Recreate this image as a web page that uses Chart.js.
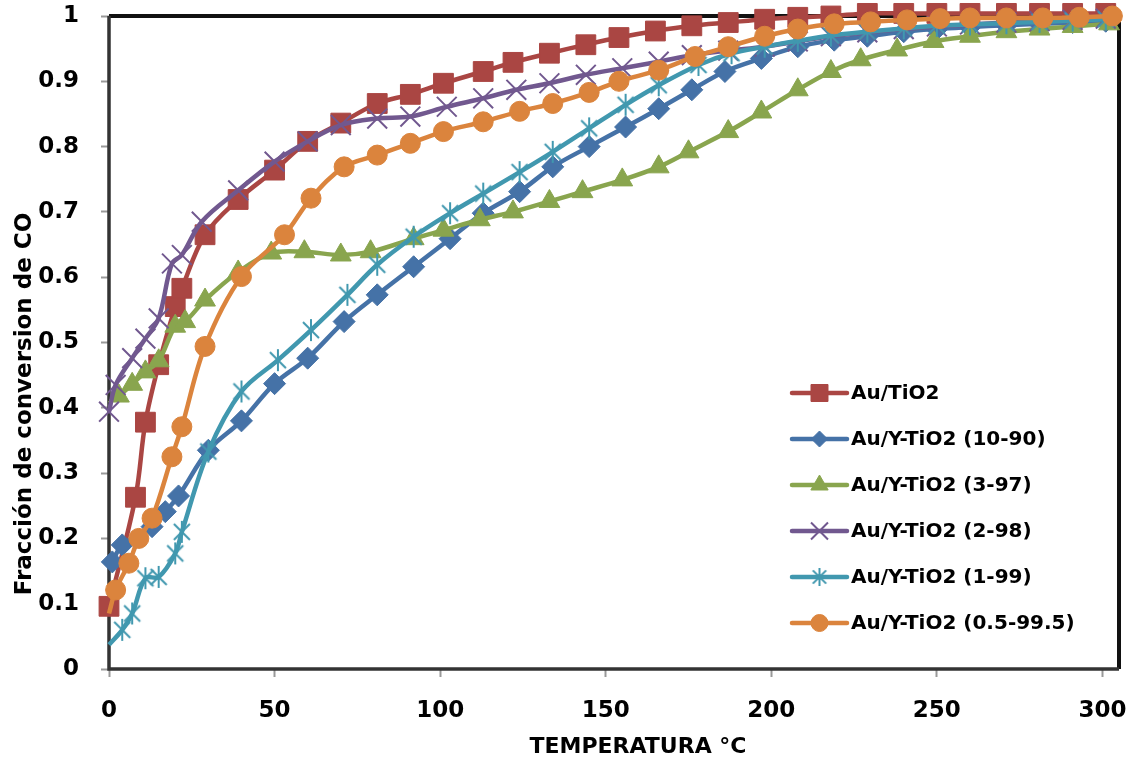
<!DOCTYPE html>
<html>
<head>
<meta charset="utf-8">
<title>Fracción de conversion de CO</title>
<script src="https://cdn.jsdelivr.net/npm/chart.js@4.4.1/dist/chart.umd.min.js"></script>
<style>
  html, body { margin: 0; padding: 0; background: #fff; }
  #chart { display: block; }
</style>
</head>
<body>
<canvas id="chart" width="1135" height="763"></canvas>
<script>
// CO conversion vs temperature for the Au catalysts

const seriesNames = [
  'Au/TiO2',
  'Au/Y-TiO2 (10-90)',
  'Au/Y-TiO2 (3-97)',
  'Au/Y-TiO2 (2-98)',
  'Au/Y-TiO2 (1-99)',
  'Au/Y-TiO2 (0.5-99.5)'
];

// temperature (°C) / conversion for each sample
const tAuTiO2 = [0, 8, 11, 15, 20, 22, 29, 39, 50, 60, 70, 81, 91, 101, 113, 122, 133, 144, 154, 165, 176, 187, 198, 208, 218, 229, 240, 250, 260, 271, 281, 291, 301];
const xAuTiO2 = [0.096, 0.263, 0.378, 0.466, 0.555, 0.583, 0.665, 0.719, 0.764, 0.808, 0.836, 0.866, 0.880, 0.897, 0.915, 0.929, 0.943, 0.956, 0.967, 0.977, 0.985, 0.990, 0.995, 0.998, 1.0, 1.004, 1.004, 1.004, 1.004, 1.004, 1.004, 1.004, 1.004];

const tY10 = [1, 4, 13, 17, 21, 30, 40, 50, 60, 71, 81, 92, 103, 113, 124, 134, 145, 156, 166, 176, 186, 197, 208, 219, 229, 240, 250, 260, 271, 281, 291, 301];
const xY10 = [0.164, 0.19, 0.218, 0.241, 0.265, 0.335, 0.380, 0.437, 0.476, 0.532, 0.573, 0.616, 0.659, 0.698, 0.731, 0.769, 0.80, 0.830, 0.858, 0.887, 0.915, 0.935, 0.953, 0.963, 0.969, 0.976, 0.98, 0.983, 0.986, 0.988, 0.99, 0.992];

const tY3 = [3, 7, 11, 15, 20, 23, 29, 39, 49, 59, 70, 79, 92, 101, 112, 122, 133, 143, 155, 166, 175, 187, 197, 208, 218, 227, 238, 249, 260, 271, 281, 291, 302];
const xY3 = [0.418, 0.436, 0.455, 0.472, 0.525, 0.532, 0.565, 0.608, 0.637, 0.639, 0.634, 0.639, 0.659, 0.672, 0.688, 0.700, 0.716, 0.731, 0.749, 0.769, 0.792, 0.823, 0.853, 0.887, 0.915, 0.933, 0.948, 0.961, 0.969, 0.976, 0.98, 0.984, 0.988];

const tY2 = [0, 2, 7, 11, 15, 19, 22, 28, 39, 50, 60, 70, 81, 91, 102, 113, 123, 133, 144, 155, 166, 176, 187, 198, 208, 218, 229, 240, 250, 260, 271, 281, 291, 301];
const xY2 = [0.394, 0.435, 0.476, 0.506, 0.537, 0.621, 0.634, 0.685, 0.733, 0.777, 0.808, 0.833, 0.843, 0.846, 0.861, 0.874, 0.887, 0.897, 0.910, 0.920, 0.930, 0.940, 0.947, 0.953, 0.961, 0.969, 0.975, 0.98, 0.984, 0.987, 0.99, 0.992, 0.994, 0.996];

const tY1 = [0, 4, 7, 11, 15, 20, 22, 30, 40, 51, 61, 72, 81, 92, 103, 113, 124, 134, 145, 156, 166, 178, 188, 198, 208, 218, 229, 240, 250, 260, 271, 281, 291, 301];
const xY1 = [0.037, 0.060, 0.085, 0.139, 0.141, 0.177, 0.210, 0.333, 0.425, 0.473, 0.519, 0.573, 0.619, 0.662, 0.698, 0.728, 0.761, 0.792, 0.828, 0.864, 0.894, 0.925, 0.943, 0.953, 0.962, 0.970, 0.976, 0.981, 0.985, 0.987, 0.989, 0.991, 0.993, 0.995];

const tY05 = [0, 2, 6, 9, 13, 19, 22, 29, 40, 53, 61, 71, 81, 91, 101, 113, 124, 134, 145, 154, 166, 177, 187, 198, 208, 219, 230, 241, 251, 260, 271, 282, 293, 303];
const xY05 = [0.085, 0.121, 0.162, 0.200, 0.231, 0.325, 0.371, 0.494, 0.601, 0.665, 0.721, 0.769, 0.787, 0.805, 0.823, 0.838, 0.854, 0.866, 0.883, 0.900, 0.917, 0.938, 0.953, 0.969, 0.980, 0.988, 0.991, 0.994, 0.996, 0.997, 0.997, 0.997, 0.998, 1.0];

const xTicksMax = 305;

const SERIES_COLORS = ['#AA4643', '#4572A7', '#89A54E', '#71588F', '#4198AF', '#DB843D'];
const FONT = "'DejaVu Sans', sans-serif";

// Excel style "star" marker: an X with a vertical bar
function makeAsterisk(color, size) {
  const c = document.createElement('canvas');
  c.width = size;
  c.height = size;
  const g = c.getContext('2d');
  const m = size / 2, d = size / 3;
  g.strokeStyle = color;
  g.lineWidth = 2;
  g.beginPath();
  g.moveTo(m - d, m - d); g.lineTo(m + d, m + d);
  g.moveTo(m + d, m - d); g.lineTo(m - d, m + d);
  g.moveTo(m, 1); g.lineTo(m, size - 1);
  g.stroke();
  return c;
}

const markers = [
  { style: 'rect', radius: 14, border: 1 },
  { style: 'rectRot', radius: 11, border: 1 },
  { style: 'triangle', radius: 12, border: 1 },
  { style: 'crossRot', radius: 14, border: 2 },
  { style: makeAsterisk(SERIES_COLORS[4], 24), radius: 11, border: 2 },
  { style: 'circle', radius: 10, border: 1 }
];
// smaller versions for the legend
const legendMarkers = [
  { style: 'rect', radius: 12, border: 1 },
  { style: 'rectRot', radius: 8, border: 1 },
  { style: 'triangle', radius: 10, border: 1 },
  { style: 'crossRot', radius: 12, border: 2 },
  { style: makeAsterisk(SERIES_COLORS[4], 20), radius: 9, border: 2 },
  { style: 'circle', radius: 8.5, border: 1 }
];

const tempLists = [tAuTiO2, tY10, tY3, tY2, tY1, tY05];
const convLists = [xAuTiO2, xY10, xY3, xY2, xY1, xY05];

// series 4 and 5 start with a point that has no visible marker
const hiddenFirst = [false, false, false, false, true, true];

const datasets = seriesNames.map((name, i) => {
  const color = SERIES_COLORS[i];
  const m = markers[i];
  return {
    label: name,
    data: tempLists[i].map((t, k) => ({ x: t, y: convLists[i][k] })),
    showLine: true,
    borderColor: color,
    backgroundColor: color,
    borderWidth: 4.5,
    tension: 0.35,
    pointStyle: m.style,
    pointRadius: hiddenFirst[i] ? (c => c.dataIndex === 0 ? 0 : m.radius) : m.radius,
    pointBorderWidth: m.border,
    pointBackgroundColor: color,
    pointBorderColor: color,
    order: 6 - i,
    clip: false
  };
});

// black frame around the plot area
const plotFrame = {
  id: 'plotFrame',
  beforeDatasetsDraw(chart) {
    const a = chart.chartArea;
    const ctx = chart.ctx;
    ctx.save();
    ctx.strokeStyle = '#111';
    ctx.lineWidth = 4;
    ctx.beginPath();
    ctx.moveTo(a.left, a.top);
    ctx.lineTo(a.right, a.top);
    ctx.lineTo(a.right, a.bottom);
    ctx.stroke();
    ctx.strokeStyle = '#333';
    ctx.lineWidth = 3.5;
    ctx.beginPath();
    ctx.moveTo(a.left, a.top);
    ctx.lineTo(a.left, a.bottom);
    ctx.lineTo(a.right, a.bottom);
    ctx.stroke();
    ctx.restore();
  }
};

// legend drawn inside the plot, lower right
const insideLegend = {
  id: 'insideLegend',
  afterDraw(chart) {
    const ctx = chart.ctx;
    const x0 = 792, x1 = 847, textX = 851;
    const top = 393, step = 46;
    ctx.save();
    ctx.font = 'bold 20px ' + FONT;
    ctx.textBaseline = 'middle';
    ctx.textAlign = 'left';
    chart.data.datasets.forEach((ds, i) => {
      const y = top + i * step;
      const m = legendMarkers[i];
      ctx.strokeStyle = ds.borderColor;
      ctx.fillStyle = ds.borderColor;
      ctx.lineWidth = 4.5;
      ctx.lineCap = 'round';
      ctx.beginPath();
      ctx.moveTo(x0, y);
      ctx.lineTo(x1, y);
      ctx.stroke();
      ctx.lineCap = 'butt';
      ctx.lineWidth = m.border;
      Chart.helpers.drawPoint(ctx, { pointStyle: m.style, radius: m.radius, borderWidth: m.border, rotation: 0 }, (x0 + x1) / 2, y);
      ctx.fillStyle = '#000';
      ctx.fillText(ds.label, textX, y + 1);
    });
    ctx.restore();
  }
};

// axis titles
const axisTitles = {
  id: 'axisTitles',
  afterDraw(chart) {
    const ctx = chart.ctx;
    ctx.save();
    ctx.fillStyle = '#000';
    ctx.textAlign = 'center';
    ctx.textBaseline = 'middle';
    ctx.font = 'bold 22px ' + FONT;
    ctx.fillText('TEMPERATURA °C', 638, 747);
    ctx.font = 'bold 23px ' + FONT;
    ctx.translate(25, 404);
    ctx.rotate(-Math.PI / 2);
    ctx.fillText('Fracción de conversion de CO', 0, 0);
    ctx.restore();
  }
};

const whiteBg = {
  id: 'whiteBg',
  beforeDraw(chart) {
    const ctx = chart.ctx;
    ctx.save();
    ctx.fillStyle = '#fff';
    ctx.fillRect(0, 0, chart.width, chart.height);
    ctx.restore();
  }
};

const ctx = document.getElementById('chart').getContext('2d');
new Chart(ctx, {
  type: 'scatter',
  data: { datasets: datasets },
  options: {
    responsive: false,
    animation: false,
    devicePixelRatio: 1,
    layout: { padding: { left: 0, right: 13, top: 16, bottom: 0 } },
    plugins: {
      legend: { display: false },
      tooltip: { enabled: false }
    },
    scales: {
      x: {
        type: 'linear',
        min: 0,
        max: xTicksMax,
        border: { display: false },
        grid: {
          drawOnChartArea: false,
          drawTicks: true,
          tickLength: 8,
          tickWidth: 2,
          tickColor: '#999'
        },
        ticks: {
          stepSize: 50,
          includeBounds: false,
          padding: 20,
          color: '#000',
          font: { family: FONT, size: 23, weight: 'bold' }
        },
        afterFit(scale) {
          scale.height = 94;
          scale.paddingLeft = 0;
          scale.paddingRight = 0;
        }
      },
      y: {
        min: 0,
        max: 1,
        border: { display: false },
        grid: {
          drawOnChartArea: false,
          drawTicks: true,
          tickLength: 8,
          tickWidth: 2,
          tickColor: '#999'
        },
        ticks: {
          stepSize: 0.1,
          padding: 22,
          color: '#000',
          font: { family: FONT, size: 23, weight: 'bold' },
          callback: v => String(+v.toFixed(1))
        },
        afterFit(scale) {
          scale.width = 109;
          scale.paddingTop = 0;
          scale.paddingBottom = 0;
        }
      }
    }
  },
  plugins: [whiteBg, plotFrame, insideLegend, axisTitles]
});
</script>
</body>
</html>
